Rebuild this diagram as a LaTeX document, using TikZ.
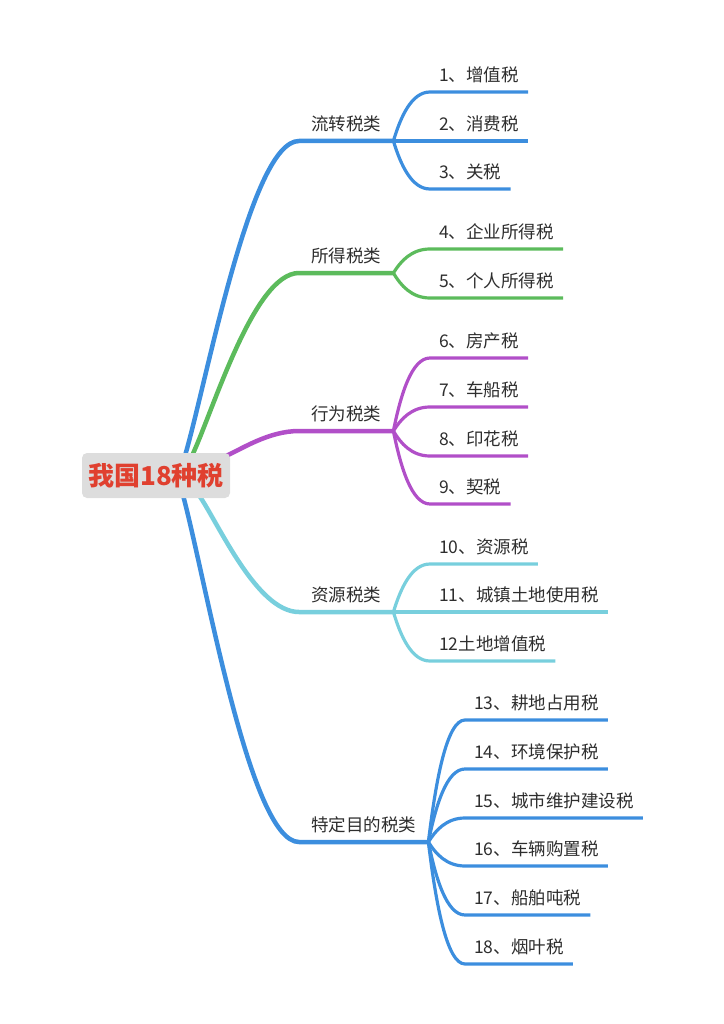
\documentclass[tikz,border=0pt]{standalone}
\usepackage{fontspec}
\setmainfont{Noto Sans CJK SC}
\usetikzlibrary{calc,backgrounds}
\definecolor{tblue}{HTML}{3C8EDE}
\definecolor{tgreen}{HTML}{5CBB5C}
\definecolor{tpurple}{HTML}{B14FC8}
\definecolor{tcyan}{HTML}{78CFDD}
\definecolor{rootgray}{HTML}{DDDDDD}
\definecolor{rootred}{HTML}{E0402F}
\definecolor{ink}{HTML}{2E2E2E}

\begin{document}
\begin{tikzpicture}[x=1pt,y=-1pt]

\tikzset{root/.style = {fill=rootgray, rounded corners=5pt, minimum width=148pt, minimum height=45pt, inner sep=0pt, text=rootred, font=\fontsize{26}{30}\selectfont\bfseries}}
\tikzset{topic/.style = {anchor=south west, inner xsep=12pt, inner ysep=0pt, text depth=10pt, text=ink, font=\fontsize{17.5}{20}\selectfont}}
\tikzset{leaf/.style = {topic, inner xsep=9pt}}
\tikzset{stem/.style = {line width=4.5pt, to path={let \p1=(\tikztostart), \p2=(\tikztotarget) in
  .. controls ({\x1+0.2*(\x2)-0.2*(\x1)},{\y1+0.25*(\y2)-0.25*(\y1)}) and ({\x2-0.42*(\x2)+0.42*(\x1)},{\y2}) .. (\tikztotarget) \tikztonodes}}}
\tikzset{twig/.style = {line width=3.2pt, to path={let \p1=(\tikztostart), \p2=(\tikztotarget) in
  .. controls ({\x1+0.2*(\x2)-0.2*(\x1)},{\y1+0.5*(\y2)-0.5*(\y1)}) and ({\x2-0.5*(\x2)+0.5*(\x1)},{\y2}) .. (\tikztotarget) \tikztonodes}}}

\useasboundingbox (0,0) rectangle (723,1024);

\node[root] (root) at (156,475.5) {我国18种税};

\node[topic] (t1) at (299,141) {流转税类};
\node[topic] (t2) at (299,273) {所得税类};
\node[topic] (t3) at (299,431) {行为税类};
\node[topic] (t4) at (299,612) {资源税类};
\node[topic] (t5) at (299,842) {特定目的税类};

\node[leaf] (c1) at (430,92)  {1、增值税};
\node[leaf] (c2) at (430,141) {2、消费税};
\node[leaf] (c3) at (430,189) {3、关税};
\node[leaf] (c4) at (430,249) {4、企业所得税};
\node[leaf] (c5) at (430,298) {5、个人所得税};
\node[leaf] (c6) at (430,358) {6、房产税};
\node[leaf] (c7) at (430,407) {7、车船税};
\node[leaf] (c8) at (430,456) {8、印花税};
\node[leaf] (c9) at (430,504) {9、契税};
\node[leaf] (c10) at (430,564) {10、资源税};
\node[leaf] (c11) at (430,612) {11、城镇土地使用税};
\node[leaf] (c12) at (430,661) {12土地增值税};
\node[leaf] (c13) at (465,720) {13、耕地占用税};
\node[leaf] (c14) at (465,769) {14、环境保护税};
\node[leaf] (c15) at (465,818) {15、城市维护建设税};
\node[leaf] (c16) at (465,866) {16、车辆购置税};
\node[leaf] (c17) at (465,915) {17、船舶吨税};
\node[leaf] (c18) at (465,964) {18、烟叶税};

%stems
\begin{scope}[on background layer]
\draw[stem, tblue] ([xshift=29pt,yshift=-3pt]root.north) to (t1.south west) -- (t1.south east);
\draw[stem, tgreen] ([xshift=36pt,yshift=-3pt]root.north) to (t2.south west) -- (t2.south east);
\draw[stem, tpurple] ([xshift=-4pt,yshift=-3pt]root.north east) to (t3.south west) -- (t3.south east);
\draw[stem, tcyan] ([xshift=43pt,yshift=3pt]root.south) to (t4.south west) -- (t4.south east);
\draw[stem, tblue] ([xshift=27pt,yshift=3pt]root.south) to (t5.south west) -- (t5.south east);
\end{scope}

%twigs
\draw[twig, tblue] (t1.south east) to (c1.south west) -- (c1.south east);
\draw[twig, tblue] (t1.south east) to (c2.south west) -- (c2.south east);
\draw[twig, tblue] (t1.south east) to (c3.south west) -- (c3.south east);
\draw[twig, tgreen] (t2.south east) to (c4.south west) -- (c4.south east);
\draw[twig, tgreen] (t2.south east) to (c5.south west) -- (c5.south east);
\draw[twig, tpurple] (t3.south east) to (c6.south west) -- (c6.south east);
\draw[twig, tpurple] (t3.south east) to (c7.south west) -- (c7.south east);
\draw[twig, tpurple] (t3.south east) to (c8.south west) -- (c8.south east);
\draw[twig, tpurple] (t3.south east) to (c9.south west) -- (c9.south east);
\draw[twig, tcyan] (t4.south east) to (c10.south west) -- (c10.south east);
\draw[twig, tcyan] (t4.south east) to (c11.south west) -- (c11.south east);
\draw[twig, tcyan] (t4.south east) to (c12.south west) -- (c12.south east);
\draw[twig, tblue] (t5.south east) to (c13.south west) -- (c13.south east);
\draw[twig, tblue] (t5.south east) to (c14.south west) -- (c14.south east);
\draw[twig, tblue] (t5.south east) to (c15.south west) -- (c15.south east);
\draw[twig, tblue] (t5.south east) to (c16.south west) -- (c16.south east);
\draw[twig, tblue] (t5.south east) to (c17.south west) -- (c17.south east);
\draw[twig, tblue] (t5.south east) to (c18.south west) -- (c18.south east);
\end{tikzpicture}
\end{document}
